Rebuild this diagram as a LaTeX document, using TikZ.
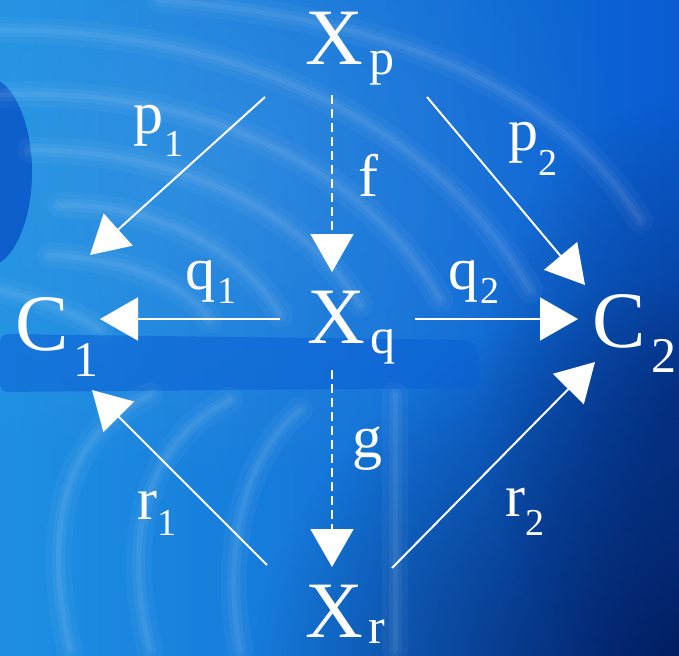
\documentclass[tikz,border=0pt]{standalone}
\usepackage{fontspec}
\setmainfont{Liberation Serif}
\usetikzlibrary{arrows.meta,calc,fadings}
\definecolor{bgL}{HTML}{1E90E2}
\definecolor{bgR}{HTML}{0A5CD0}
\definecolor{navy}{HTML}{011552}
\definecolor{bandc}{HTML}{0A5FD4}
\definecolor{blobc}{HTML}{0752C6}
\tikzfading[name=softout, inner color=transparent!0, outer color=transparent!100]
\newcommand{\mainlbl}[4]{{\fontsize{80}{80}\selectfont #1}\hspace{#3pt}\raisebox{-#4pt}{\fontsize{50}{50}\selectfont #2}}
\newcommand{\arrlbl}[4]{{\fontsize{60}{60}\selectfont #1}\hspace{#3pt}\raisebox{-#4pt}{\fontsize{38}{38}\selectfont #2}}
\tikzset{
  obj/.style={text=white, inner sep=0pt, anchor=base west},
  arr/.style={draw=white, line width=2pt, -{Triangle[length=38pt,width=43pt]}},
  darr/.style={arr, dash pattern=on 9pt off 5pt},
  streakA/.style={draw=white, opacity=0.04, line width=26pt, line cap=round},
  streakB/.style={draw=white, opacity=0.05, line width=13pt, line cap=round},
  streakC/.style={draw=white, opacity=0.06, line width=5pt, line cap=round}
}
\begin{document}
\begin{tikzpicture}[x=1pt,y=-1pt]
\useasboundingbox (0,0) rectangle (679,655);
\begin{scope}
\clip (0,0) rectangle (679,655);
% background
\shade[left color=bgL, right color=bgR] (0,0) rectangle (679,655);
\fill[white, opacity=0.10, path fading=softout] (220,160) ellipse (420 and 330);
\fill[navy, path fading=softout] (720,700) ellipse (470 and 420);
\fill[navy, opacity=0.5, path fading=softout] (679,400) ellipse (200 and 300);
% dark blob on the left
\fill[blobc, opacity=0.8] (-14,172) ellipse (46 and 95);
% light streaks top-left
\foreach \s in {streakA,streakB,streakC}{
  \draw[\s] (0,30) .. controls (250,30) and (440,130) .. (530,290);
  \draw[\s] (0,95) .. controls (200,85) and (370,170) .. (440,300);
  \draw[\s] (30,150) .. controls (190,150) and (310,220) .. (360,305);
  \draw[\s] (60,205) .. controls (170,205) and (250,260) .. (280,315);
  \draw[\s] (50,255) .. controls (140,260) and (190,290) .. (210,320);
  \draw[\s] (160,0) .. controls (400,20) and (560,90) .. (640,220);
  \draw[\s] (0,290) .. controls (40,300) and (80,315) .. (100,330);
}
% dark band
\fill[bandc, opacity=0.55, rounded corners=8pt] (0,334) -- (470,340) -- (478,348) -- (480,388) -- (0,392) -- cycle;
% faint streaks bottom-left
\begin{scope}[opacity=0.7]
\foreach \s in {streakA,streakB,streakC}{
  \draw[\s] (70,650) .. controls (40,520) and (70,430) .. (150,395);
  \draw[\s] (150,650) .. controls (120,530) and (150,440) .. (230,400);
  \draw[\s] (240,650) .. controls (220,540) and (250,450) .. (300,410);
  \draw[\s] (395,650) -- (395,395);
}
\end{scope}
\end{scope}
% objects
\node[obj] (Xp) at (305,65) {\mainlbl{X}{p}{7}{10}};
\node[obj] (Xq) at (307,343) {\mainlbl{X}{q}{6}{10}};
\node[obj] (Xr) at (305,637) {\mainlbl{X}{r}{6}{6}};
\node[obj] (C1) at (15,350) {\mainlbl{C}{1}{5}{26}};
\node[obj] (C2) at (592,347) {\mainlbl{C}{2}{6}{25}};
% labels
\node[obj] (lp1) at (133,134) {\arrlbl{p}{1}{1}{23}};
\node[obj] (lp2) at (508,150) {\arrlbl{p}{2}{0}{25}};
\node[obj] (lf) at (358,196) {\fontsize{60}{60}\selectfont f};
\node[obj] (lq1) at (185,289) {\arrlbl{q}{1}{2}{14}};
\node[obj] (lq2) at (448,289) {\arrlbl{q}{2}{2}{14}};
\node[obj] (lg) at (352,457) {\fontsize{60}{60}\selectfont g};
\node[obj] (lr1) at (137,519) {\arrlbl{r}{1}{0}{16}};
\node[obj] (lr2) at (505,516) {\arrlbl{r}{2}{0}{19}};
% connectors
\draw[arr] ($(Xp.base west)+(-40,32)$) -- ($(C1.base west)+(75,-95)$);
\draw[arr] ($(Xp.base west)+(122,32)$) -- ($(C2.base west)+(-7,-62)$);
\draw[arr] ($(Xq.base west)+(-27,-24)$) -- ($(C1.base west)+(85,-31)$);
\draw[arr] ($(Xq.base west)+(108,-24)$) -- ($(C2.base west)+(-14,-28)$);
\draw[arr] ($(Xr.base west)+(-38,-72)$) -- ($(C1.base west)+(77,40)$);
\draw[arr] ($(Xr.base west)+(87,-69)$) -- ($(C2.base west)+(3,15)$);
\draw[darr] ($(Xp.base west)+(27,30)$) -- ($(Xq.base west)+(25,-71)$);
\draw[darr] ($(Xq.base west)+(25,27)$) -- ($(Xr.base west)+(27,-70)$);
\end{tikzpicture}
\end{document}
